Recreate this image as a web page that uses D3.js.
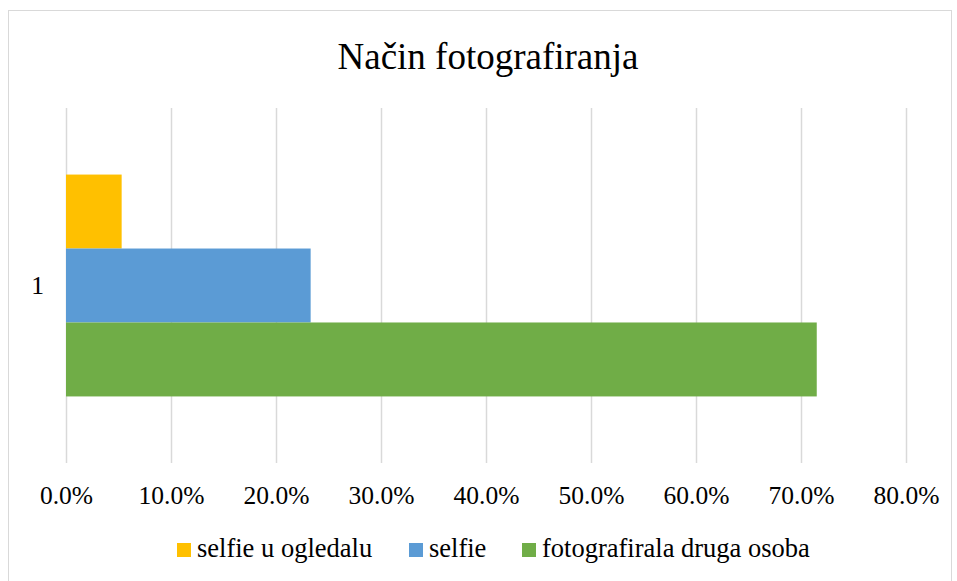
<!DOCTYPE html>
<html>
<head>
<meta charset="utf-8">
<title>Način fotografiranja</title>
<script src="https://cdn.jsdelivr.net/npm/d3@7"></script>
<style>
	body{margin:0;background:#fff;}
	text{font-family:"Liberation Serif","Times New Roman",serif;fill:#000;}
</style>
</head>
<body>
<script>
// data
var categories=["1"];
var seriesNames=["selfie u ogledalu","selfie","fotografirala druga osoba"];
var seriesValues=[0.053,0.233,0.715];
var seriesColors=["#FFC000","#5B9BD5","#70AD47"];
var tickValues=[0,0.1,0.2,0.3,0.4,0.5,0.6,0.7,0.8];

var width=957,height=581;
var plot={left:66,right:906,top:108,bottom:463};
var serif="'Liberation Serif','Times New Roman',serif";

var svg=d3.select("body").append("svg")
	.attr("width",width)
	.attr("height",height);

// chart border
svg.append("rect")
	.attr("x",8.5).attr("y",10.5)
	.attr("width",943).attr("height",590)
	.attr("fill","none")
	.attr("stroke","#d9d9d9")
	.attr("stroke-width",1);

svg.append("text")
	.attr("x",488).attr("y",69)
	.attr("text-anchor","middle")
	.style("font-size","37px")
	.style("font-family",serif)
	.text("Način fotografiranja");

var x=d3.scaleLinear().domain([0,0.8]).range([plot.left,plot.right]);
var y=d3.scaleBand().domain(categories).range([plot.top,plot.bottom]);
// bars fill 222 of 355 px of the band
var inner=d3.scaleBand().domain(seriesNames)
	.range([0,y.bandwidth()])
	.paddingOuter(0.9).paddingInner(0);

// gridlines
svg.append("g").selectAll("line")
	.data(tickValues)
	.enter().append("line")
	.attr("x1",function(d){return Math.round(x(d))+0.5;})
	.attr("x2",function(d){return Math.round(x(d))+0.5;})
	.attr("y1",plot.top)
	.attr("y2",plot.bottom)
	.attr("stroke","#d9d9d9")
	.attr("stroke-width",1.5);

// bars
var data=seriesNames.map(function(n,i){return {name:n,value:seriesValues[i],color:seriesColors[i],cat:categories[0]};});
svg.append("g").selectAll("rect")
	.data(data)
	.enter().append("rect")
	.attr("x",x(0))
	.attr("y",function(d){return y(d.cat)+inner(d.name);})
	.attr("width",function(d){return x(d.value)-x(0);})
	.attr("height",inner.bandwidth())
	.attr("fill",function(d){return d.color;});

// x axis labels
var xAxis=d3.axisBottom(x)
	.tickValues(tickValues)
	.tickFormat(d3.format(".1%"))
	.tickSize(0)
	.tickPadding(0);
var gx=svg.append("g")
	.attr("transform","translate(0,"+plot.bottom+")")
	.attr("font-family",serif)
	.call(xAxis);
gx.select(".domain").remove();
gx.selectAll("text")
	.attr("y",41)
	.attr("dy",0)
	.style("font-size","25.5px")
	.style("font-family",serif);

// y axis label
var yAxis=d3.axisLeft(y).tickSize(0).tickPadding(22);
var gy=svg.append("g")
	.attr("transform","translate("+plot.left+",0)")
	.attr("font-family",serif)
	.call(yAxis);
gy.select(".domain").remove();
gy.selectAll("text")
	.attr("dy","0.35em")
	.style("font-size","25.5px")
	.style("font-family",serif);

// legend
var legendX=[177,409,522];
var lg=svg.append("g").selectAll("g")
	.data(data)
	.enter().append("g")
	.attr("transform",function(d,i){return "translate("+legendX[i]+",543)";});
lg.append("rect")
	.attr("width",14).attr("height",14)
	.attr("fill",function(d){return d.color;});
lg.append("text")
	.attr("x",20).attr("y",14)
	.style("font-size","26.5px")
	.style("font-family",serif)
	.text(function(d){return d.name;});
</script>
</body>
</html>
